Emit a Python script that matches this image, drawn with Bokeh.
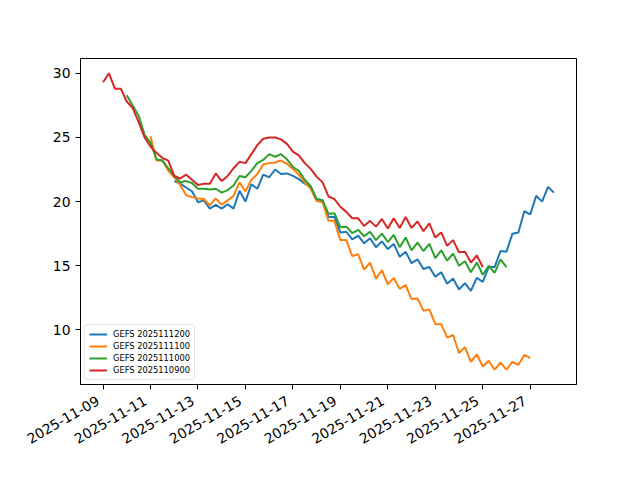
import pandas as pd
from math import pi
from bokeh.plotting import figure
from bokeh.models import Range1d, FixedTicker, DatetimeTickFormatter
from bokeh.embed import file_html
from bokeh.resources import INLINE

# ---- data -------------------------------------------------------------
run_labels = ["GEFS 2025111200", "GEFS 2025111100", "GEFS 2025111000", "GEFS 2025110900"]
run_starts = ["2025-11-12 00:00", "2025-11-11 00:00", "2025-11-10 00:00", "2025-11-09 00:00"]
step = "6h"

gefs_2025111200 = [21.6, 21.4, 21.1, 20.8, 19.95, 20.1, 19.45, 19.75, 19.45, 19.8,
                   19.45, 20.85, 20.0, 21.35, 21.0, 22.1, 21.9, 22.5, 22.15, 22.2,
                   22.0, 21.75, 21.4, 21.15, 20.2, 20.1, 18.8, 18.8, 17.6, 17.65,
                   17.05, 17.35, 16.75, 17.15, 16.45, 16.9, 16.3, 16.7, 15.7, 16.1,
                   15.2, 15.5, 14.75, 14.9, 14.15, 14.5, 13.6, 14.0, 13.15, 13.65,
                   13.05, 14.05, 13.75, 14.9, 14.9, 16.15, 16.1, 17.5, 17.6, 19.25,
                   19.0, 20.45, 20.0, 21.15, 20.7]

gefs_2025111100 = [25.1, 23.2, 23.2, 22.4, 21.9, 21.3, 20.5, 20.35, 20.25, 20.2,
                   19.7, 20.25, 19.75, 20.1, 20.45, 21.5, 20.8, 21.7, 22.15, 22.9,
                   23.0, 23.05, 23.2, 22.95, 22.55, 22.1, 21.5, 21.0, 20.05, 19.95,
                   18.5, 18.5, 17.0, 17.0, 15.75, 15.9, 14.7, 15.25, 14.0, 14.65,
                   13.55, 14.05, 13.2, 13.5, 12.4, 12.45, 11.5, 11.6, 10.45, 10.45,
                   9.4, 9.6, 8.2, 8.65, 7.5, 8.1, 7.15, 7.6, 6.9, 7.45,
                   6.9, 7.5, 7.27, 8.05, 7.8]

gefs_2025111000 = [28.3, 27.5, 26.7, 25.2, 24.6, 23.3, 23.2, 22.6, 22.0, 21.5,
                   21.6, 21.45, 21.0, 21.0, 20.95, 21.0, 20.7, 20.9, 21.25, 22.0,
                   21.9, 22.4, 23.0, 23.25, 23.7, 23.5, 23.7, 23.3, 22.7, 22.4,
                   21.7, 21.2, 20.2, 20.1, 19.05, 19.1, 18.0, 18.05, 17.55, 17.8,
                   17.3, 17.65, 17.0, 17.5, 16.85, 17.4, 16.45, 17.2, 16.2, 16.8,
                   16.15, 16.7, 15.6, 16.2, 15.4, 15.95, 15.0, 15.35, 14.5, 15.25,
                   14.3, 15.0, 14.45, 15.5, 14.9]

gefs_2025110900 = [29.3, 30.0, 28.8, 28.8, 27.8, 27.3, 26.2, 25.0, 24.3, 23.8,
                   23.4, 23.2, 22.0, 21.8, 22.1, 21.7, 21.3, 21.4, 21.4, 22.2,
                   21.6, 22.0, 22.6, 23.1, 23.0, 23.7, 24.4, 24.9, 25.0, 25.0,
                   24.85, 24.5, 23.9, 23.6, 23.0, 22.55, 21.95, 21.5, 20.4, 20.2,
                   19.6, 19.2, 18.7, 18.7, 18.1, 18.5, 18.05, 18.65, 17.9, 18.7,
                   17.95, 18.8, 17.95, 18.45, 17.7, 18.3, 17.2, 17.6, 16.55, 17.0,
                   16.05, 16.1, 15.25, 15.8, 14.9]

series_values = [gefs_2025111200, gefs_2025111100, gefs_2025111000, gefs_2025110900]
colors = ["#1f77b4", "#ff7f0e", "#2ca02c", "#d62728"]

x_tick_dates = ["2025-11-09", "2025-11-11", "2025-11-13", "2025-11-15", "2025-11-17",
                "2025-11-19", "2025-11-21", "2025-11-23", "2025-11-25", "2025-11-27"]
y_ticks = [10, 15, 20, 25, 30]

# ---- build ------------------------------------------------------------
times = [pd.date_range(s, periods=len(v), freq=step) for s, v in zip(run_starts, series_values)]

tmin = min(t[0] for t in times)
tmax = max(t[-1] for t in times)
tpad = (tmax - tmin) * 0.05
vmin = min(min(v) for v in series_values)
vmax = max(max(v) for v in series_values)
vpad = (vmax - vmin) * 0.05

FRAME_W, FRAME_H = 496, 326
p = figure(x_axis_type="datetime",
           frame_width=FRAME_W, frame_height=FRAME_H,
           min_border_left=80, min_border_right=56,
           min_border_top=58, min_border_bottom=88,
           x_range=Range1d(tmin - tpad, tmax + tpad),
           y_range=Range1d(vmin - vpad, vmax + vpad),
           output_backend="svg", toolbar_location=None)

for t, v, c, lab in zip(times, series_values, colors, run_labels):
    p.line(t, v, line_color=c, line_width=2, legend_label=lab)

p.xgrid.visible = False
p.ygrid.visible = False
p.outline_line_color = "black"
p.outline_line_width = 1
p.outline_line_alpha = 1
p.background_fill_color = "white"
p.border_fill_color = "white"

fmt = "%Y-%m-%d"
dt_fmt = DatetimeTickFormatter(microseconds=fmt, milliseconds=fmt, seconds=fmt,
                               minsec=fmt, minutes=fmt, hourmin=fmt, hours=fmt,
                               days=fmt, months=fmt, years=fmt)
tick_ms = [pd.Timestamp(d).value // 10**6 for d in x_tick_dates]

# matplotlib-style rotated labels: the rotated label's right edge sits on the tick.
# Visible tick marks are drawn as (labelless) minor ticks at the exact dates; the
# labels sit on slightly earlier, invisible major ticks.
span_ms = ((tmax + tpad) - (tmin - tpad)).total_seconds() * 1000.0
shift_ms = int(round(5.0 / FRAME_W * span_ms))
label_ms = [t - shift_ms for t in tick_ms]

xa = p.xaxis[0]
xa.ticker = FixedTicker(ticks=label_ms, minor_ticks=tick_ms)
xa.formatter = dt_fmt
xa.major_label_overrides = {lm: d for lm, d in zip(label_ms, x_tick_dates)}
xa.axis_line_color = "black"
xa.axis_line_width = 1
xa.major_tick_out = 0
xa.major_tick_in = 0
xa.minor_tick_out = 5
xa.minor_tick_in = 0
xa.minor_tick_line_color = "black"
xa.minor_tick_line_width = 1
xa.major_label_orientation = pi / 6
xa.major_label_text_font = "DejaVu Sans"
xa.major_label_text_font_size = "13.9px"
xa.major_label_text_color = "black"
xa.major_label_standoff = 10

ya = p.yaxis[0]
ya.ticker = FixedTicker(ticks=y_ticks)
ya.axis_line_color = "black"
ya.axis_line_width = 1
ya.major_tick_out = 5
ya.major_tick_in = 0
ya.major_tick_line_color = "black"
ya.minor_tick_out = 0
ya.minor_tick_in = 0
ya.major_label_text_font = "DejaVu Sans"
ya.major_label_text_font_size = "13.9px"
ya.major_label_text_color = "black"
ya.major_label_standoff = 5

lg = p.legend[0]
lg.location = "bottom_left"
lg.margin = 4
lg.padding = 4
lg.spacing = 2
lg.glyph_width = 18
lg.glyph_height = 10
lg.label_height = 10
lg.label_standoff = 6
lg.label_text_font = "DejaVu Sans"
lg.label_text_font_size = "8.3px"
lg.label_text_color = "black"
lg.border_line_color = "#cccccc"
lg.border_line_width = 1
lg.background_fill_alpha = 0.8
lg.border_radius = 3

open("out.html", "w").write(file_html(p, INLINE))
